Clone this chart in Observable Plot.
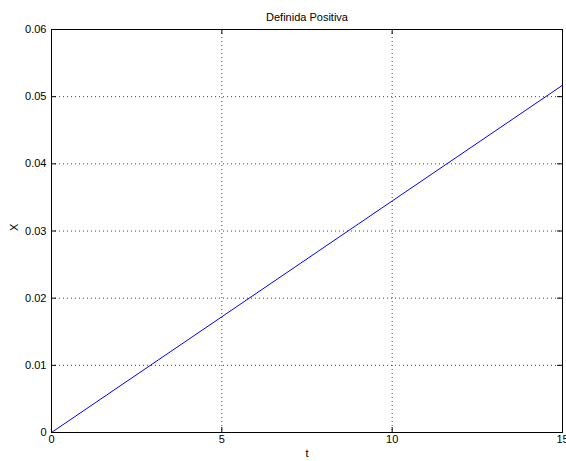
<!DOCTYPE html>
<html>
<head>
<meta charset="utf-8">
<script src="https://cdn.jsdelivr.net/npm/d3@7"></script>
<script src="https://cdn.jsdelivr.net/npm/@observablehq/plot@0.6"></script>
<style>
  html, body { margin: 0; padding: 0; background: #fff; }
  svg { font-family: "Liberation Sans", Arial, Helvetica, sans-serif; }
</style>
</head>
<body>
<div id="chart"></div>
<script>
const title = "Definida Positiva";
const xLabel = "t";
const yLabel = "X";
const tValues = [0, 5, 10, 15];
const xValues = [0, 0.01723, 0.03447, 0.0517];
const xTicks = [0, 5, 10, 15];
const yTicks = [0, 0.01, 0.02, 0.03, 0.04, 0.05, 0.06];

const data = tValues.map((t, i) => ({t, x: xValues[i]}));

const W = 566, H = 461;
const mL = 51, mR = 4, mT = 29, mB = 29;
const fw = W - mL - mR, fh = H - mT - mB;
const tk = 5;

const chart = Plot.plot({
  width: W,
  height: H,
  marginLeft: mL,
  marginRight: mR,
  marginTop: mT,
  marginBottom: mB,
  style: {fontSize: "11px", fontFamily: "Liberation Sans, Arial, sans-serif", color: "#000", background: "#fff"},
  x: {domain: [0, 15]},
  y: {domain: [0, 0.06]},
  marks: [
    // grid
    Plot.ruleX(xTicks.slice(1, -1), {stroke: "#444", strokeDasharray: "1,3", strokeWidth: 1}),
    Plot.ruleY(yTicks.slice(1, -1), {stroke: "#444", strokeDasharray: "1,3", strokeWidth: 1}),
    // inward ticks
    Plot.ruleX(xTicks, {stroke: "#000", insetTop: fh - tk}),
    Plot.ruleX(xTicks, {stroke: "#000", insetBottom: fh - tk}),
    Plot.ruleY(yTicks, {stroke: "#000", insetRight: fw - tk}),
    Plot.ruleY(yTicks, {stroke: "#000", insetLeft: fw - tk}),
    // axes labels
    Plot.axisX({ticks: xTicks, tickSize: 0, tickPadding: 3, tickFormat: d => String(d), label: null, fontSize: 11}),
    Plot.axisY({ticks: yTicks, tickSize: 0, tickPadding: 5, tickFormat: d => d === 0 ? "0" : d.toFixed(2), label: null, fontSize: 11}),
    // data line
    Plot.line(data, {x: "t", y: "x", stroke: "#0000ff", strokeWidth: 1}),
    Plot.frame({stroke: "#000", strokeWidth: 1}),
    // title and axis titles
    Plot.text([title], {frameAnchor: "top", dy: -16, fontSize: 11, fill: "#000"}),
    Plot.text([xLabel], {frameAnchor: "bottom", dy: 24, fontSize: 11, fill: "#000"}),
    Plot.text([yLabel], {frameAnchor: "left", dx: -37, rotate: -90, fontSize: 11, fill: "#000"})
  ]
});
document.getElementById("chart").appendChild(chart);
</script>
</body>
</html>
